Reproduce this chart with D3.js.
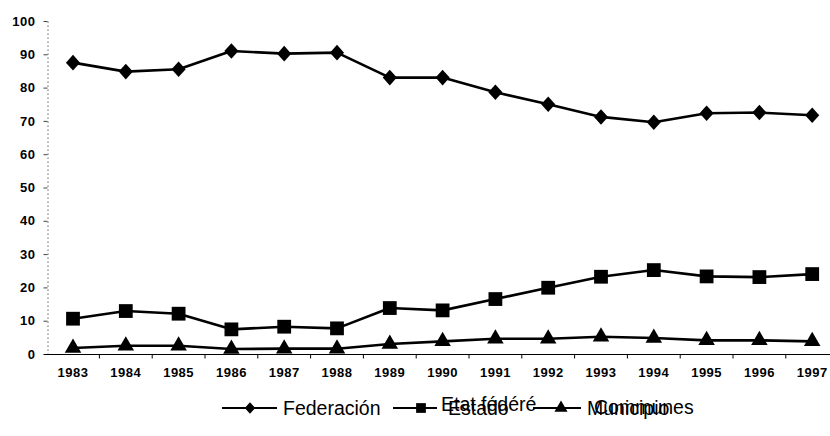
<!DOCTYPE html>
<html>
<head>
<meta charset="utf-8">
<script src="https://cdn.jsdelivr.net/npm/d3@7"></script>
<style>
  html, body { margin: 0; padding: 0; background: #fff; }
  svg { display: block; }
  text { font-family: "Liberation Sans", Arial, Helvetica, sans-serif; fill: #000; }
</style>
</head>
<body>
<svg id="chart" width="830" height="436"></svg>
<script>
const years = ["1983","1984","1985","1986","1987","1988","1989","1990","1991","1992","1993","1994","1995","1996","1997"];
const federacion = [87.5, 84.8, 85.5, 91.0, 90.2, 90.5, 83.0, 83.0, 78.6, 75.0, 71.2, 69.6, 72.3, 72.5, 71.7];
const estado     = [10.6, 12.9, 12.1, 7.4, 8.2, 7.7, 13.8, 13.1, 16.5, 19.9, 23.2, 25.2, 23.3, 23.1, 24.0];
const municipio  = [1.8, 2.5, 2.5, 1.5, 1.6, 1.6, 3.0, 3.8, 4.6, 4.6, 5.2, 4.8, 4.1, 4.1, 3.8];
const yTicks = [0, 10, 20, 30, 40, 50, 60, 70, 80, 90, 100];
const seriesNames = ["Federación", "Estado", "Municipio"];
const seriesNamesFr = ["", "Etat fédéré", "Communes"];

const svg = d3.select("#chart");
const x = d3.scaleBand().domain(years).range([46.6, 838.6]).paddingInner(0).paddingOuter(0);
const y = d3.scaleLinear().domain([0, 100]).range([354, 21]);
const cx = d => x(d) + x.bandwidth() / 2;

// Y axis (dotted look)
const yAxis = svg.append("g").attr("transform", "translate(47.5,0)")
  .call(d3.axisLeft(y).tickValues(yTicks).tickSize(4).tickPadding(8));
yAxis.select(".domain").attr("stroke", "#666").attr("stroke-width", 1).attr("stroke-dasharray", "1.5,2.5");
yAxis.selectAll(".tick line").attr("stroke", "#444").attr("stroke-width", 1);
yAxis.selectAll(".tick text").attr("font-size", 13).attr("font-weight", "bold")
  .attr("letter-spacing", "0.5px").attr("font-family", "'Liberation Sans', Arial, sans-serif").attr("fill", "#000");

// X axis
const xAxis = svg.append("g").attr("transform", "translate(0,354.5)")
  .call(d3.axisBottom(x).tickSize(0).tickPadding(13));
xAxis.select(".domain").remove();
xAxis.selectAll(".tick text").attr("font-size", 13).attr("font-weight", "bold")
  .attr("letter-spacing", "0.5px").attr("font-family", "'Liberation Sans', Arial, sans-serif").attr("fill", "#000");
svg.append("line").attr("x1", 44).attr("x2", 838.6).attr("y1", 354.5).attr("y2", 354.5)
  .attr("stroke", "#000").attr("stroke-width", 1.2);
svg.selectAll(".xtick").data(years.slice(1)).enter().append("line")
  .attr("x1", d => x(d)).attr("x2", d => x(d)).attr("y1", 354.5).attr("y2", 358.5)
  .attr("stroke", "#000").attr("stroke-width", 1);

// Series
const diamondT = (px, py, s) => `translate(${px},${py}) scale(1,1.1) rotate(45) scale(${s})`;
const series = [
  { values: federacion, sym: d3.symbolSquare, size: 100, diamond: true },
  { values: estado, sym: d3.symbolSquare, size: 190 },
  { values: municipio, sym: d3.symbolTriangle, size: 118 }
];
const line = d3.line().x((d, i) => cx(years[i])).y(d => y(d));
series.forEach(s => {
  svg.append("path").attr("d", line(s.values)).attr("fill", "none")
    .attr("stroke", "#000").attr("stroke-width", 2.6).attr("stroke-linejoin", "round");
  const sym = d3.symbol().type(s.sym).size(s.size);
  svg.selectAll(null).data(s.values).enter().append("path")
    .attr("d", sym)
    .attr("transform", (d, i) => s.diamond
      ? diamondT(cx(years[i]), y(d), 1)
      : `translate(${cx(years[i])},${y(d)})`)
    .attr("fill", "#000");
});

// Legend
const legY = 408;
const legend = [
  { x0: 222, x1: 277, mx: 250, tx: 283, sym: d3.symbolSquare, size: 55, diamond: true },
  { x0: 393, x1: 437, mx: 421, tx: 448, sym: d3.symbolSquare, size: 95, frx: 441, fry: 3 },
  { x0: 533, x1: 581, mx: 561, tx: 587, sym: d3.symbolTriangle, size: 75, frx: 594, fry: 6 }
];
legend.forEach((l, i) => {
  svg.append("line").attr("x1", l.x0).attr("x2", l.x1).attr("y1", legY).attr("y2", legY)
    .attr("stroke", "#000").attr("stroke-width", 2);
  svg.append("path").attr("d", d3.symbol().type(l.sym).size(l.size)())
    .attr("transform", l.diamond ? diamondT(l.mx, legY, 1) : `translate(${l.mx},${legY})`)
    .attr("fill", "#000");
  if (seriesNamesFr[i]) {
    svg.append("text").attr("x", l.frx).attr("y", legY + l.fry).attr("font-size", 19.5).text(seriesNamesFr[i]);
  }
  svg.append("text").attr("x", l.tx).attr("y", legY + 7).attr("font-size", 19.5).text(seriesNames[i]);
});
</script>
</body>
</html>
